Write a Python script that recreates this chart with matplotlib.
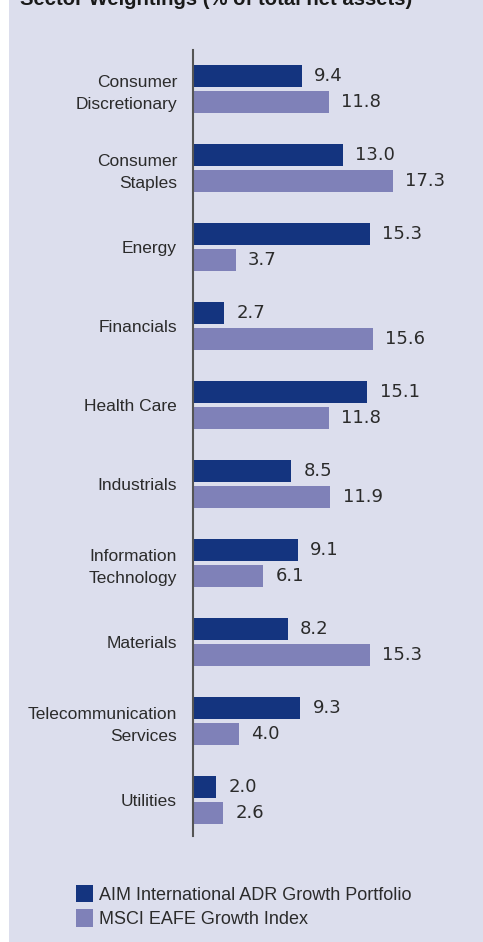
import matplotlib
matplotlib.use('Agg')
import matplotlib.pyplot as plt
from matplotlib.patches import Rectangle
import numpy as np

categories = ["Consumer\nDiscretionary", "Consumer\nStaples", "Energy", "Financials",
              "Health Care", "Industrials", "Information\nTechnology", "Materials",
              "Telecommunication\nServices", "Utilities"]
portfolio = [9.4, 13.0, 15.3, 2.7, 15.1, 8.5, 9.1, 8.2, 9.3, 2.0]
index_vals = [11.8, 17.3, 3.7, 15.6, 11.8, 11.9, 6.1, 15.3, 4.0, 2.6]
series_names = ["AIM International ADR Growth Portfolio", "MSCI EAFE Growth Index"]

DARK = "#14347f"
LIGHT = "#7f81b8"
BG = "#dcdeed"
TXT = "#2b2b2b"

plt.rcParams['font.family'] = ['Liberation Sans', 'DejaVu Sans']

W, H = 483, 942
fig = plt.figure(figsize=(W / 100, H / 100), dpi=100, facecolor="white")
fig.patches.append(Rectangle((9 / W, 0), 1, 1, transform=fig.transFigure,
                             facecolor=BG, edgecolor="none", zorder=-10))

# title sits mostly above the top edge, as in the source crop
fig.text(20 / W, 1 - 5 / H, "Sector Weightings (% of total net assets)",
         fontsize=14.6, fontweight="bold", color="#1a1a1a", va="baseline", ha="left")

ax_left, ax_right = 193 / W, 1.0
ax_top, ax_bot = 1 - 50 / H, 1 - 836 / H
ax = fig.add_axes([ax_left, ax_bot, ax_right - ax_left, ax_top - ax_bot])
ax.set_facecolor("none")

y = np.arange(len(categories))
h = 0.28
off = 0.165
ax.barh(y - off, portfolio, height=h, color=DARK, label=series_names[0])
ax.barh(y + off, index_vals, height=h, color=LIGHT, label=series_names[1])

ax.set_xlim(0, (W - 193) / 11.55)
ax.set_ylim(9.46, -0.49)

num_font = dict(family="DejaVu Sans", fontsize=13, color=TXT, va="center", ha="left")
for i in range(len(categories)):
    ax.text(portfolio[i] + 1.05, y[i] - off, f"{portfolio[i]:.1f}", **num_font)
    ax.text(index_vals[i] + 1.05, y[i] + off, f"{index_vals[i]:.1f}", **num_font)

ax.set_yticks(y)
ax.set_yticklabels(categories, fontsize=12.5, color=TXT, linespacing=1.6)
ax.tick_params(axis="y", length=0, pad=11.5)
ax.set_xticks([])
for s in ["top", "right", "bottom"]:
    ax.spines[s].set_visible(False)
ax.spines["left"].set_color("#555555")
ax.spines["left"].set_linewidth(1.5)

leg = fig.legend(loc="upper left", bbox_to_anchor=(76 / W, 1 - 885 / H),
                 frameon=False, fontsize=13, handlelength=0.95, handleheight=1.1,
                 handletextpad=0.3, labelspacing=0.3, borderpad=0, borderaxespad=0)
for t in leg.get_texts():
    t.set_color(TXT)

fig.savefig("out.png", dpi=100, facecolor="white")
